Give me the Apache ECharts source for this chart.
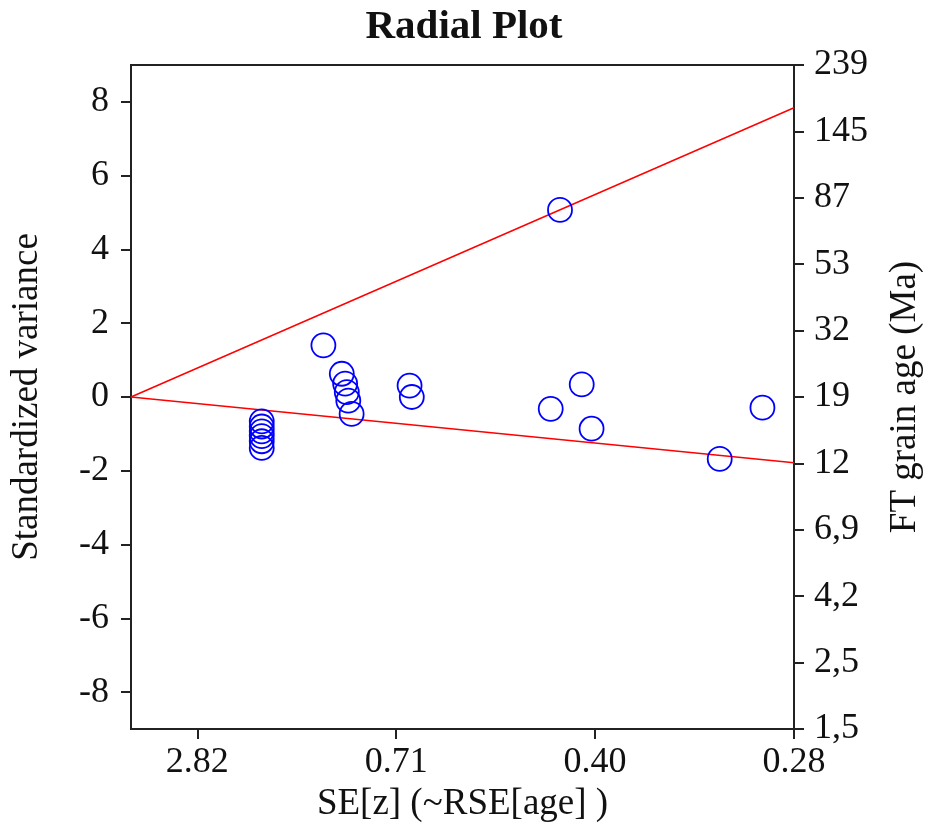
<!DOCTYPE html>
<html>
<head>
<meta charset="utf-8">
<title>Radial Plot</title>
<script src="https://cdn.jsdelivr.net/npm/echarts@6/dist/echarts.min.js"></script>
<style>
  html, body { margin: 0; padding: 0; background: #fff; }
  #main { width: 928px; height: 827px; }
</style>
</head>
<body>
<div id="main"></div>
<script>
// precision (1/SE) on x, standardized estimate on y
var xMax = 3.57;
var xTickValues = [0.357, 1.428, 2.499, 3.57];
var xTickLabels = ['2.82', '0.71', '0.40', '0.28'];

var yTickValues = [-8, -6, -4, -2, 0, 2, 4, 6, 8];

// right hand age scale, equally spaced from -9 to 9
var ageTickValues = [-9, -7.2, -5.4, -3.6, -1.8, 0, 1.8, 3.6, 5.4, 7.2, 9];
var ageTickLabels = ['1,5', '2,5', '4,2', '6,9', '12', '19', '32', '53', '87', '145', '239'];

var grainPoints = [
  [0.704, -0.66], [0.704, -0.80], [0.704, -0.93], [0.704, -1.06], [0.704, -1.20], [0.704, -1.38],
  [1.036, 1.40],
  [1.135, 0.63], [1.153, 0.36], [1.162, 0.13], [1.170, -0.10], [1.188, -0.46],
  [1.500, 0.31], [1.512, 0.00],
  [2.260, -0.32], [2.310, 5.07], [2.427, 0.34], [2.480, -0.86],
  [3.170, -1.68], [3.400, -0.29]
];

var upperLine = [[0, 0], [3.57, 7.84]];
var lowerLine = [[0, 0], [3.57, -1.78]];

var font = 'Liberation Serif';
var txt = '#111';

function nearestLabel(v, vals, labels) {
  var best = 0;
  for (var i = 1; i < vals.length; i++) {
    if (Math.abs(vals[i] - v) < Math.abs(vals[best] - v)) best = i;
  }
  return labels[best];
}

var myChart = echarts.init(document.getElementById('main'));

var option = {
  backgroundColor: '#fff',
  animation: false,
  title: {
    text: 'Radial Plot',
    left: 'center',
    top: 2,
    textStyle: { fontFamily: font, fontSize: 41, fontWeight: 'bold', color: txt }
  },
  grid: {
    left: 131, right: 134, top: 65, bottom: 98,
    show: true, borderColor: '#222', borderWidth: 2,
    containLabel: false, outerBoundsMode: 'none'
  },
  xAxis: {
    type: 'value',
    min: 0, max: xMax,
    name: 'SE[z] (~RSE[age] )',
    nameLocation: 'middle',
    nameGap: 56,
    nameTextStyle: { fontFamily: font, fontSize: 37, color: txt },
    splitLine: { show: false },
    axisLine: { show: true, onZero: false, lineStyle: { color: '#222', width: 2 } },
    axisTick: { show: true, length: 10, customValues: xTickValues, lineStyle: { color: '#222', width: 2 } },
    axisLabel: {
      customValues: xTickValues,
      margin: 16,
      fontFamily: font, fontSize: 36, color: txt,
      formatter: function (v) { return nearestLabel(v, xTickValues, xTickLabels); }
    }
  },
  yAxis: [
    {
      type: 'value',
      position: 'left',
      min: -9, max: 9,
      name: 'Standardized variance',
      nameLocation: 'middle',
      nameRotate: 90,
      nameGap: 85,
      nameTextStyle: { fontFamily: font, fontSize: 37, color: txt },
      splitLine: { show: false },
      axisLine: { show: true, lineStyle: { color: '#222', width: 2 } },
      axisTick: { show: true, length: 10, customValues: yTickValues, lineStyle: { color: '#222', width: 2 } },
      axisLabel: {
        customValues: yTickValues,
        margin: 22,
        fontFamily: font, fontSize: 36, color: txt
      }
    },
    {
      type: 'value',
      position: 'right',
      min: -9, max: 9,
      name: 'FT grain age (Ma)',
      nameLocation: 'middle',
      nameRotate: 90,
      nameGap: 93,
      nameTextStyle: { fontFamily: font, fontSize: 37, color: txt },
      splitLine: { show: false },
      axisLine: { show: true, lineStyle: { color: '#222', width: 2 } },
      axisTick: { show: true, length: 10, customValues: ageTickValues, lineStyle: { color: '#222', width: 2 } },
      axisLabel: {
        customValues: ageTickValues,
        margin: 20,
        fontFamily: font, fontSize: 36, color: txt,
        formatter: function (v) { return nearestLabel(v, ageTickValues, ageTickLabels); }
      }
    }
  ],
  series: [
    {
      name: 'upper',
      type: 'line',
      data: upperLine,
      symbol: 'none',
      lineStyle: { color: '#ff0000', width: 1.5 },
      silent: true
    },
    {
      name: 'lower',
      type: 'line',
      data: lowerLine,
      symbol: 'none',
      lineStyle: { color: '#ff0000', width: 1.5 },
      silent: true
    },
    {
      name: 'grains',
      type: 'scatter',
      data: grainPoints,
      symbol: 'circle',
      symbolSize: 24,
      itemStyle: { color: 'rgba(0,0,0,0)', borderColor: '#0000ff', borderWidth: 1.8, opacity: 1 },
      z: 3
    }
  ]
};

myChart.setOption(option);
</script>
</body>
</html>
